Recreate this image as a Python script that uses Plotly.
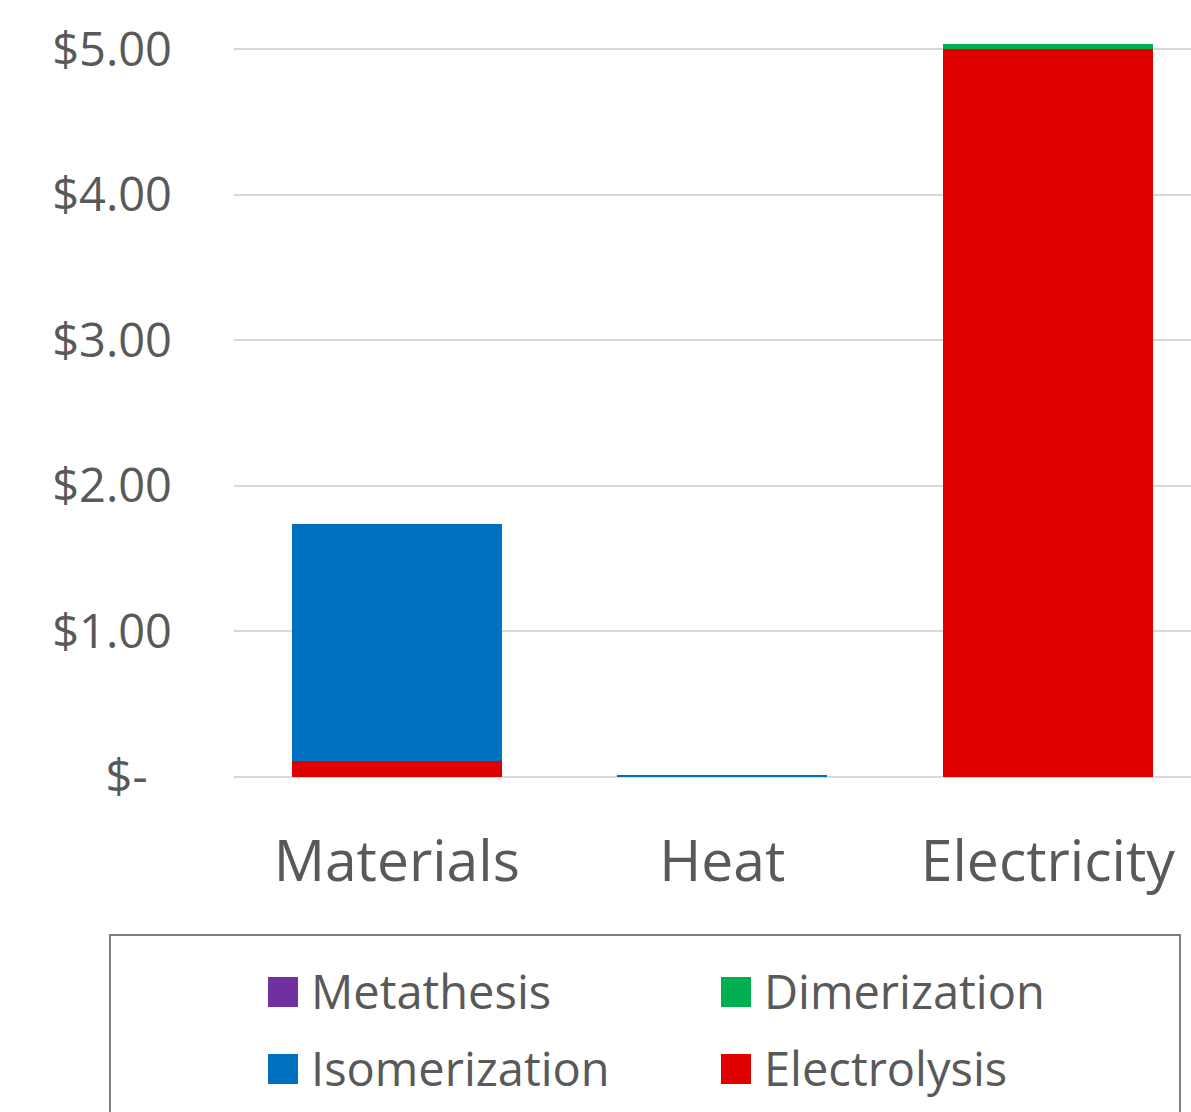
import plotly.graph_objects as go

categories = ["Materials", "Heat", "Electricity"]
electrolysis = [0.11, 0.0, 5.00]
isomerization = [1.63, 0.012, 0.0]
dimerization = [0.0, 0.0, 0.032]
metathesis = [0.0, 0.0, 0.0]

tick_vals = [0, 1, 2, 3, 4, 5]
tick_text = ["$-\u00a0\u00a0", "$1.00", "$2.00", "$3.00", "$4.00", "$5.00"]

series = [
    ("Electrolysis", electrolysis, "#E00000"),
    ("Isomerization", isomerization, "#0070C0"),
    ("Dimerization", dimerization, "#00B050"),
    ("Metathesis", metathesis, "#7030A0"),
]

W, H = 1191, 1112
L, R, T, B = 234, 0, 20, 335
FONT = "Open Sans"
TXT = "#595959"

fig = go.Figure()
for name, vals, col in series:
    fig.add_trace(go.Bar(x=categories, y=vals, name=name, marker=dict(color=col, line=dict(width=0)),
                         showlegend=False))

pw = W - L - R
ph = H - T - B


def px_x(px):
    return (px - L) / pw


def px_y(py):
    return (H - B - py) / ph


# manual legend
shapes = [dict(type="rect", xref="paper", yref="paper",
               x0=px_x(110), x1=px_x(1180), y0=px_y(1130), y1=px_y(935),
               line=dict(color="#7f7f7f", width=2), fillcolor="rgba(0,0,0,0)")]
annotations = []
legend_layout = [("Metathesis", 268, 992), ("Dimerization", 721, 992),
                 ("Isomerization", 268, 1069), ("Electrolysis", 721, 1069)]
colors = {n: c for n, _, c in series}
for name, sx, cy in legend_layout:
    shapes.append(dict(type="rect", xref="paper", yref="paper",
                       x0=px_x(sx), x1=px_x(sx + 30), y0=px_y(cy + 15), y1=px_y(cy - 15),
                       line=dict(width=0), fillcolor=colors[name]))
    annotations.append(dict(xref="paper", yref="paper", x=px_x(sx + 41), y=px_y(cy - 1),
                            xanchor="left", yanchor="middle", text=name, showarrow=False,
                            font=dict(family=FONT, size=47, color=TXT)))

fig.update_layout(
    barmode="stack",
    bargap=0.355,
    width=W, height=H,
    margin=dict(l=L, r=R, t=T, b=B, pad=0),
    paper_bgcolor="white", plot_bgcolor="white",
    font=dict(family=FONT, color=TXT),
    shapes=shapes,
    annotations=annotations,
    showlegend=False,
)
fig.update_xaxes(range=[-0.5, 2.44], showgrid=False, showline=False, ticks="",
                 tickfont=dict(family=FONT, size=57, color=TXT), ticklabelstandoff=46)
fig.update_yaxes(range=[0, 5.2], tickvals=tick_vals, ticktext=tick_text,
                 showgrid=True, gridcolor="#d9d9d9", gridwidth=2,
                 zeroline=True, zerolinecolor="#d9d9d9", zerolinewidth=2,
                 showline=False, ticks="", tickfont=dict(family=FONT, size=47, color=TXT),
                 ticklabelstandoff=61)

fig.write_html("out.html")
